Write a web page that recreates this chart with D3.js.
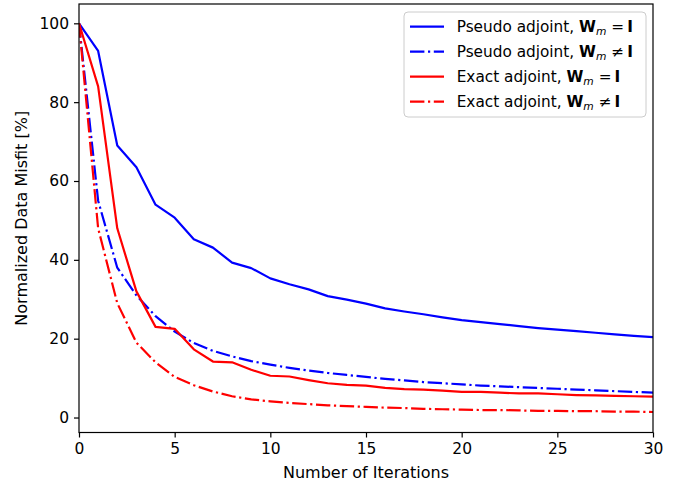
<!DOCTYPE html>
<html>
<head>
<meta charset="utf-8">
<script src="https://cdn.jsdelivr.net/npm/d3@7"></script>
<style>
  body { margin: 0; background: #fff; }
  svg { display: block; font-family: "DejaVu Sans", sans-serif; }
</style>
</head>
<body>
<div id="chart"></div>
<script>
// iterations 0..30
const iterations = d3.range(0, 31);

// normalized data misfit [%]
const pseudoIdentity = [100, 93, 69, 63.5, 54, 50.7, 45.2, 43.1, 39.3, 37.9, 35.3, 33.8, 32.5, 30.8, 29.9, 28.9,
  27.7, 26.9, 26.2, 25.4, 24.7, 24.2, 23.7, 23.2, 22.7, 22.3, 21.9, 21.5, 21.1, 20.7, 20.4];
const pseudoWeighted = [100, 55, 38, 31, 25.7, 21.8, 18.9, 16.9, 15.5, 14.3, 13.4, 12.6, 11.9, 11.3, 10.8, 10.3,
  9.8, 9.4, 9.0, 8.7, 8.4, 8.1, 7.9, 7.7, 7.5, 7.3, 7.1, 6.9, 6.7, 6.5, 6.3];
const exactIdentity = [100, 84, 48, 32, 23, 22.5, 17.3, 14.2, 14.0, 12.1, 10.6, 10.4, 9.5, 8.7, 8.3, 8.1,
  7.5, 7.2, 7.1, 6.8, 6.5, 6.5, 6.3, 6.1, 6.1, 5.9, 5.7, 5.6, 5.5, 5.4, 5.3];
const exactWeighted = [100, 48, 29, 19, 14, 10.3, 8.2, 6.6, 5.4, 4.6, 4.1, 3.7, 3.4, 3.1, 2.9, 2.7,
  2.5, 2.4, 2.2, 2.1, 2.0, 1.9, 1.9, 1.8, 1.7, 1.7, 1.6, 1.6, 1.5, 1.5, 1.4];

const xTicks = [0, 5, 10, 15, 20, 25, 30];
const yTicks = [0, 20, 40, 60, 80, 100];

const series = [
  { name: "Pseudo adjoint, ", neq: false, values: pseudoIdentity, color: "#0000ff", dashed: false },
  { name: "Pseudo adjoint, ", neq: true, values: pseudoWeighted, color: "#0000ff", dashed: true },
  { name: "Exact adjoint, ", neq: false, values: exactIdentity, color: "#ff0000", dashed: false },
  { name: "Exact adjoint, ", neq: true, values: exactWeighted, color: "#ff0000", dashed: true }
];

// 1. canvas and margins
const margin = { top: 4, right: 28, bottom: 52.5, left: 79 };
const width = 681 - margin.left - margin.right;
const height = 485 - margin.top - margin.bottom;
const tickFont = 15.5;
const labelFont = 16;

const svg = d3.select("#chart")
  .append("svg")
  .attr("width", 681)
  .attr("height", 485);

const group = svg.append("g")
  .attr("transform", `translate(${margin.left}, ${margin.top})`);

// 2. scales
const xScale = d3.scaleLinear().domain([0, 30]).range([0, width]);
const yScale = d3.scaleLinear().domain([-3.8, 104.9]).range([height, 0]);

// 3. axes
const xAxis = group.append("g")
  .attr("transform", `translate(0, ${height})`)
  .call(d3.axisBottom(xScale).tickValues(xTicks).tickSize(5).tickPadding(5).tickFormat(d3.format("d")));

const yAxis = group.append("g")
  .call(d3.axisLeft(yScale).tickValues(yTicks).tickSize(5).tickPadding(5).tickFormat(d3.format("d")));

[xAxis, yAxis].forEach(ax => {
  ax.select(".domain").remove();
  ax.selectAll("line").attr("stroke", "#000").attr("stroke-width", 1.2);
  ax.selectAll("text")
    .attr("fill", "#000")
    .style("font-family", "DejaVu Sans, sans-serif")
    .style("font-size", tickFont + "px");
});

// 4. lines
const line = d3.line()
  .x((d, i) => xScale(iterations[i]))
  .y(d => yScale(d));

const lineW = 2.2;
const dashDot = "14.4,3.6,2.2,3.6";

const plot = group.append("g");
plot.append("clipPath").attr("id", "clip")
  .append("rect").attr("width", width).attr("height", height);

plot.selectAll(".series")
  .data(series)
  .enter()
  .append("path")
  .attr("class", "series")
  .attr("clip-path", "url(#clip)")
  .attr("d", d => line(d.values))
  .attr("fill", "none")
  .attr("stroke", d => d.color)
  .attr("stroke-width", lineW)
  .attr("stroke-linejoin", "round")
  .attr("stroke-dasharray", d => d.dashed ? dashDot : null);

// frame
group.append("rect")
  .attr("width", width)
  .attr("height", height)
  .attr("fill", "none")
  .attr("stroke", "#000")
  .attr("stroke-width", 1.2);

// 5. axis titles
group.append("text")
  .text("Number of Iterations")
  .attr("x", width / 2)
  .attr("y", height + 45)
  .style("font-size", labelFont + "px")
  .style("text-anchor", "middle");

group.append("text")
  .text("Normalized Data Misfit [%]")
  .attr("transform", `translate(${-52}, ${height / 2}) rotate(-90)`)
  .style("font-size", labelFont + "px")
  .style("text-anchor", "middle");

// 6. legend
const legend = svg.append("g").attr("transform", "translate(404, 12)");
legend.append("rect")
  .attr("width", 242)
  .attr("height", 105)
  .attr("rx", 4)
  .attr("fill", "#fff")
  .attr("fill-opacity", 0.8)
  .attr("stroke", "#cccccc")
  .attr("stroke-width", 1);

const rows = legend.selectAll(".row")
  .data(series)
  .enter()
  .append("g")
  .attr("class", "row")
  .attr("transform", (d, i) => `translate(0, ${14.7 + i * 25})`);

rows.append("line")
  .attr("x1", 6).attr("x2", 40)
  .attr("y1", 0).attr("y2", 0)
  .attr("stroke", d => d.color)
  .attr("stroke-width", lineW)
  .attr("stroke-dasharray", d => d.dashed ? dashDot : null);

const label = rows.append("text")
  .attr("x", 52.7)
  .attr("y", 5.5)
  .style("font-size", "15.3px");

label.append("tspan").text(d => d.name);
label.append("tspan").attr("font-weight", "bold").text("W");
label.append("tspan").attr("font-style", "italic").attr("font-size", "10.7px").attr("dy", 3).text("m");
label.append("tspan").attr("dy", -3).attr("dx", 5).text(d => d.neq ? "\u2260" : "=");
label.append("tspan").attr("dx", 3).attr("font-weight", "bold").text("I");
</script>
</body>
</html>
